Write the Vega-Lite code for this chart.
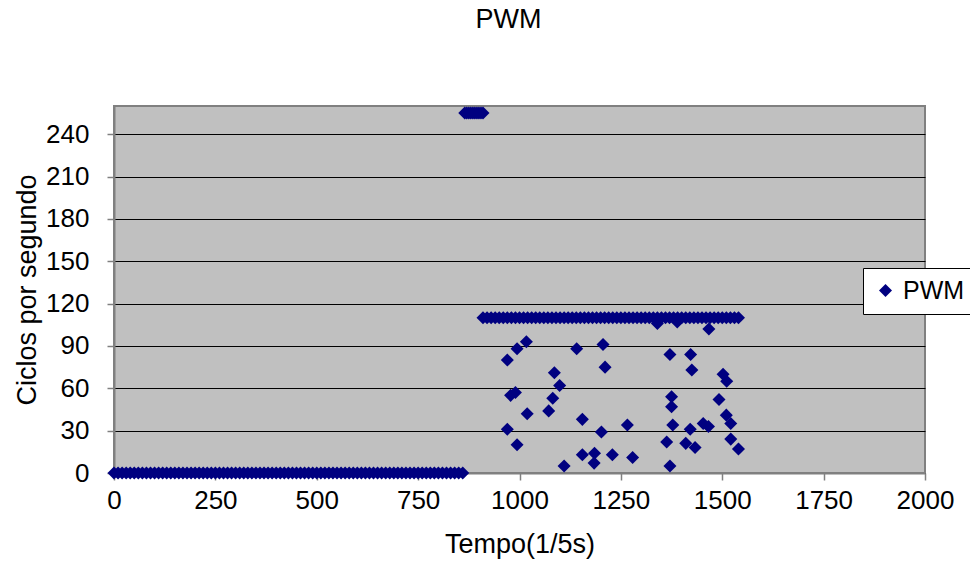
{
  "$schema": "https://vega.github.io/schema/vega-lite/v6.json",
  "width": 811,
  "height": 367,
  "autosize": {"type": "none"},
  "padding": {"left": 114, "top": 106, "right": 45, "bottom": 88},
  "background": "white",
  "title": {"text": "PWM", "anchor": "middle", "dx": -11, "offset": 72, "fontSize": 27, "font": "Liberation Sans", "fontWeight": "normal", "color": "black"},
  "config": {
    "view": {"fill": "#C0C0C0", "stroke": "#808080", "strokeWidth": 2}
  },
  "data": {"values": [
    {"t":0,"c":0},{"t":10,"c":0},{"t":20,"c":0},{"t":30,"c":0},{"t":40,"c":0},{"t":50,"c":0},{"t":60,"c":0},{"t":70,"c":0},{"t":80,"c":0},{"t":90,"c":0},
    {"t":100,"c":0},{"t":110,"c":0},{"t":120,"c":0},{"t":130,"c":0},{"t":140,"c":0},{"t":150,"c":0},{"t":160,"c":0},{"t":170,"c":0},{"t":180,"c":0},{"t":190,"c":0},
    {"t":200,"c":0},{"t":210,"c":0},{"t":220,"c":0},{"t":230,"c":0},{"t":240,"c":0},{"t":250,"c":0},{"t":260,"c":0},{"t":270,"c":0},{"t":280,"c":0},{"t":290,"c":0},
    {"t":300,"c":0},{"t":310,"c":0},{"t":320,"c":0},{"t":330,"c":0},{"t":340,"c":0},{"t":350,"c":0},{"t":360,"c":0},{"t":370,"c":0},{"t":380,"c":0},{"t":390,"c":0},
    {"t":400,"c":0},{"t":410,"c":0},{"t":420,"c":0},{"t":430,"c":0},{"t":440,"c":0},{"t":450,"c":0},{"t":460,"c":0},{"t":470,"c":0},{"t":480,"c":0},{"t":490,"c":0},
    {"t":500,"c":0},{"t":510,"c":0},{"t":520,"c":0},{"t":530,"c":0},{"t":540,"c":0},{"t":550,"c":0},{"t":560,"c":0},{"t":570,"c":0},{"t":580,"c":0},{"t":590,"c":0},
    {"t":600,"c":0},{"t":610,"c":0},{"t":620,"c":0},{"t":630,"c":0},{"t":640,"c":0},{"t":650,"c":0},{"t":660,"c":0},{"t":670,"c":0},{"t":680,"c":0},{"t":690,"c":0},
    {"t":700,"c":0},{"t":710,"c":0},{"t":720,"c":0},{"t":730,"c":0},{"t":740,"c":0},{"t":750,"c":0},{"t":760,"c":0},{"t":770,"c":0},{"t":780,"c":0},{"t":790,"c":0},
    {"t":800,"c":0},{"t":810,"c":0},{"t":820,"c":0},{"t":830,"c":0},{"t":840,"c":0},{"t":850,"c":0},{"t":860,"c":0},
    {"t":865,"c":255},{"t":870,"c":255},{"t":875,"c":255},{"t":880,"c":255},{"t":885,"c":255},{"t":890,"c":255},{"t":895,"c":255},{"t":900,"c":255},{"t":905,"c":255},{"t":910,"c":255},
    {"t":910,"c":110},{"t":920,"c":110},{"t":930,"c":110},{"t":940,"c":110},{"t":950,"c":110},{"t":960,"c":110},{"t":970,"c":110},{"t":980,"c":110},{"t":990,"c":110},
    {"t":1000,"c":110},{"t":1010,"c":110},{"t":1020,"c":110},{"t":1030,"c":110},{"t":1040,"c":110},{"t":1050,"c":110},{"t":1060,"c":110},{"t":1070,"c":110},{"t":1080,"c":110},{"t":1090,"c":110},
    {"t":1100,"c":110},{"t":1110,"c":110},{"t":1120,"c":110},{"t":1130,"c":110},{"t":1140,"c":110},{"t":1150,"c":110},{"t":1160,"c":110},{"t":1170,"c":110},{"t":1180,"c":110},{"t":1190,"c":110},
    {"t":1200,"c":110},{"t":1210,"c":110},{"t":1220,"c":110},{"t":1230,"c":110},{"t":1240,"c":110},{"t":1250,"c":110},{"t":1260,"c":110},{"t":1270,"c":110},{"t":1280,"c":110},{"t":1290,"c":110},
    {"t":1300,"c":110},{"t":1310,"c":110},{"t":1320,"c":110},{"t":1330,"c":110},{"t":1340,"c":110},{"t":1350,"c":110},{"t":1360,"c":110},{"t":1370,"c":110},{"t":1380,"c":110},{"t":1390,"c":110},
    {"t":1400,"c":110},{"t":1410,"c":110},{"t":1420,"c":110},{"t":1430,"c":110},{"t":1440,"c":110},{"t":1450,"c":110},{"t":1460,"c":110},{"t":1470,"c":110},{"t":1480,"c":110},{"t":1490,"c":110},
    {"t":1500,"c":110},{"t":1510,"c":110},{"t":1520,"c":110},{"t":1530,"c":110},{"t":1540,"c":110},
    {"t":970,"c":80},{"t":994,"c":88},{"t":1017,"c":93},{"t":978,"c":55},{"t":990,"c":57},{"t":1019,"c":42},{"t":970,"c":31},{"t":994,"c":20},
    {"t":1086,"c":71},{"t":1099,"c":62},{"t":1082,"c":53},{"t":1072,"c":44},{"t":1110,"c":5},{"t":1141,"c":88},{"t":1155,"c":38},{"t":1155,"c":13},
    {"t":1185,"c":14},{"t":1184,"c":7},{"t":1206,"c":91},{"t":1211,"c":75},{"t":1202,"c":29},{"t":1229,"c":13},{"t":1266,"c":34},{"t":1279,"c":11},
    {"t":1340,"c":106},{"t":1371,"c":84},{"t":1375,"c":54},{"t":1375,"c":47},{"t":1378,"c":34},{"t":1363,"c":22},{"t":1371,"c":5},{"t":1389,"c":107},
    {"t":1422,"c":84},{"t":1425,"c":73},{"t":1421,"c":31},{"t":1410,"c":21},{"t":1433,"c":18},{"t":1453,"c":35},{"t":1466,"c":33},{"t":1467,"c":102},
    {"t":1502,"c":70},{"t":1511,"c":65},{"t":1492,"c":52},{"t":1510,"c":41},{"t":1521,"c":35},{"t":1521,"c":24},{"t":1540,"c":17}
  ]},
  "transform": [{"calculate": "'PWM'", "as": "s"}],
  "mark": {"type": "point", "shape": "diamond", "filled": true, "size": 170, "opacity": 1},
  "encoding": {
    "x": {"field": "t", "type": "quantitative", "scale": {"domain": [0, 2000], "nice": false},
      "axis": {"title": "Tempo(1/5s)", "values": [0,250,500,750,1000,1250,1500,1750,2000], "format": "d", "grid": false, "labelFlush": false, "labelOverlap": false,
        "labelFont": "Liberation Sans", "labelFontSize": 26, "labelColor": "black", "labelPadding": 7,
        "titleFont": "Liberation Sans", "titleFontSize": 27, "titleFontWeight": "normal", "titleColor": "black", "titlePadding": 18,
        "domainColor": "#808080", "domainWidth": 2, "tickColor": "#808080", "tickSize": 7, "tickWidth": 1.5}},
    "y": {"field": "c", "type": "quantitative", "scale": {"domain": [0, 260], "nice": false},
      "axis": {"title": "Ciclos por segundo", "values": [0,30,60,90,120,150,180,210,240], "format": "d", "grid": true, "gridColor": "black", "gridWidth": 1, "gridOpacity": 1, "labelFlush": false,
        "labelFont": "Liberation Sans", "labelFontSize": 26, "labelColor": "black", "labelPadding": 18,
        "titleFont": "Liberation Sans", "titleFontSize": 27, "titleFontWeight": "normal", "titleColor": "black", "titlePadding": 4,
        "domainColor": "#808080", "domainWidth": 2, "tickColor": "#808080", "tickSize": 7, "tickWidth": 1.5}},
    "color": {"field": "s", "type": "nominal", "scale": {"range": ["#000080"]},
      "legend": {"title": null, "orient": "none", "legendX": 749, "legendY": 162, "fillColor": "white", "strokeColor": "black", "padding": 10, "symbolOffset": 0, "labelOffset": 5, "labelFont": "Liberation Sans", "labelFontSize": 25, "labelColor": "black", "symbolType": "diamond", "symbolSize": 170, "symbolStrokeWidth": 0, "labelLimit": 200, "symbolOpacity": 1}}
  }
}
